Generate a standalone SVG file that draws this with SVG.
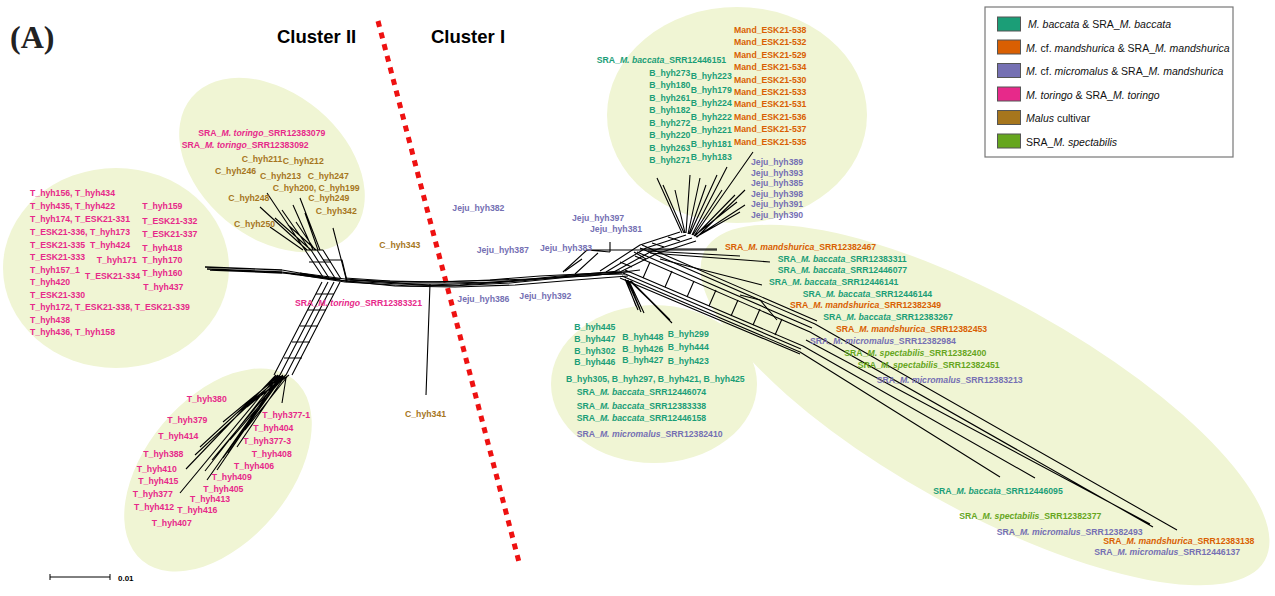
<svg xmlns="http://www.w3.org/2000/svg" width="1275" height="596" viewBox="0 0 1275 596">
<style>
.bg{fill:#f0f5d4}
.l{font-family:"Liberation Sans",Arial,sans-serif;font-size:8.7px;font-weight:bold}
.t{fill:#e7298a}.c{fill:#a6761d}.b{fill:#1b9e77}.m{fill:#d95f02}.j{fill:#7570b3}.s{fill:#66a61e}
.i{font-style:italic}
.net{stroke:#000;stroke-width:1.1;fill:none;stroke-linejoin:round}
.leg{font-family:"Liberation Sans",Arial,sans-serif;font-size:10.5px;fill:#111}
.sw{stroke:#555;stroke-width:1}
</style>
<rect width="1275" height="596" fill="#fff"/>
<g id="areas">
<ellipse class="bg" cx="116" cy="268" rx="113" ry="100"/>
<ellipse class="bg" cx="272" cy="165" rx="105" ry="72" transform="rotate(40 272 165)"/>
<ellipse class="bg" cx="218" cy="470" rx="118" ry="72" transform="rotate(-50 218 470)"/>
<ellipse class="bg" cx="737" cy="115" rx="130" ry="108"/>
<ellipse class="bg" cx="985" cy="405" rx="320" ry="105" transform="rotate(29 985 405)"/>
<ellipse class="bg" cx="654" cy="384" rx="103" ry="79"/>
</g>
<g id="divider">
<line x1="378" y1="21" x2="520" y2="566" stroke="#ee1111" stroke-width="5" stroke-dasharray="6 6"/>
</g>
<g id="connectors" class="net">
<!-- left stub and backbone -->
<path d="M205,267 L282,270 M207,269 L282,272 M210,270 L282,273" stroke-width="1.4"/>
<path d="M282,270 L323,277 M282,272 L330,278 M282,273 L340,279 M290,274 L347,281"/>
<path d="M300,273 L345,279 L400,283 L445,283 L500,282 L560,276 L620,271"/>
<path d="M300,274 L345,281 L400,284 L450,286 L510,283 L570,277 L622,273"/>
<path d="M300,275 L345,282 L410,286 L460,285 L520,281 L580,275 L625,274"/>
<path d="M345,278 L390,281 L440,282 L490,280 L540,276 L600,273 L630,272"/>
<path d="M345,280 L420,282 L470,281 L530,279 L590,276 L640,270"/>
<path d="M345,281 L395,286 L455,287 L515,285 L575,280 L628,276"/>
<path d="M350,280 L430,285 L480,283 L550,278 L615,272"/>
<!-- C branch -->
<path d="M323,277 L305,250 M329,278 L311,250 M335,278 L317,250 M341,279 L323,250"/>
<path d="M305,250 L323,250 M309,262 L331,262 M323,260 L342,260 L347,281"/>
<path d="M305,250 L267,193 M307,250 L260,207 M303,250 L270,227 M310,250 L282,210 M313,250 L293,205 M318,250 L305,213 M320,250 L300,198 M316,250 L288,225 M347,282 L333,228 M311,250 L275,218 M315,250 L296,222"/>
<!-- T branch -->
<path d="M322,282 L274,375 M328,282 L280,375 M334,282 L286,375 M340,282 L292,375"/>
<path d="M316,294 L334,294 M308,310 L326,310 M300,326 L318,326 M292,342 L310,342 M284,358 L302,358"/>
<path d="M276,375 L186,469 M277,376 L180,493 M278,375 L200,447 M279,376 L205,471 M280,376 L207,480 M281,376 L217,470 M282,376 L223,458 M283,376 L228,453 M285,376 L237,447 M280,375 L223,422 M283,375 L237,413 M286,375 L247,407 M289,375 L255,400 M286,378 L282,403 M281,377 L212,460 M279,377 L195,455 M284,377 L230,440 M287,377 L245,430"/>
<!-- short branches centre -->
<path d="M430,284 L426,395 M565,271 L582,259 M610,242 L610,252"/>
<!-- grid toward top-right -->
<path d="M563,272 L587,250 L717,250 M575,274 L598,253 M587,250 L610,252"/>
<path d="M600,271 L640,245 L680,232 M606,272 L646,248 L686,235 M612,273 L652,251 L692,238 M618,273 L656,254 L696,241"/>
<path d="M620,262 L632,267 M634,252 L646,259 M652,243 L664,247 M668,237 L680,241"/>
<path d="M682,233 L657,178 M684,233 L663,185 M686,233 L690,175 M688,234 L700,178 M690,234 L717,175 M692,235 L727,167 M694,236 L753,152 M694,236 L737,202 M696,237 L740,212 M695,236 L735,195 M697,237 L745,190 M685,233 L675,190 M689,234 L706,185 M693,235 L722,190 M696,237 L745,205"/>
<!-- band toward lower right -->
<path d="M620,278 L800,354 M622,276 L800,352 M623,273 L801,349 M625,270 L803,346"/>
<path d="M635,256 L810,332 M637,252 L812,328 M640,248 L815,324 M642,245 L817,321"/>
<path d="M643,278 L650,262 M665,287 L672,271 M687,297 L694,281 M709,306 L716,290 M731,316 L738,300 M753,325 L760,309 M775,335 L782,319"/>
<path d="M640,249 L717,249 M650,253 L770,262 M660,259 L762,285 M740,295 L760,300 L777,320 M648,251 L740,256"/>
<path d="M800,352 L1000,477 M803,346 L1035,478 M810,332 L1153,527 M815,324 L1177,530 M806,340 L1150,524"/>
<!-- lower green fan -->
<path d="M625,279 L638,310 M627,280 L641,312 M629,281 L644,313 M626,280 L636,306 M630,281 L668,318 M632,282 L672,323 M631,281 L670,320 M628,280 L640,309"/>
</g>
<g id="title">
<text x="10" y="48" font-family="Liberation Serif,serif" font-weight="bold" font-size="32" fill="#222">(A)</text>
<text x="277" y="43" font-family="Liberation Sans,Arial,sans-serif" font-weight="bold" font-size="18.5" fill="#000">Cluster II</text>
<text x="431" y="43" font-family="Liberation Sans,Arial,sans-serif" font-weight="bold" font-size="18.5" fill="#000">Cluster I</text>
</g>
<g id="toringo-left" class="l t">
<text x="30" y="196">T_hyh156, T_hyh434</text>
<text x="30" y="208.5">T_hyh435, T_hyh422</text>
<text x="30" y="221.5">T_hyh174, T_ESK21-331</text>
<text x="30" y="234.5">T_ESK21-336, T_hyh173</text>
<text x="30" y="247.5">T_ESK21-335</text>
<text x="30" y="260">T_ESK21-333</text>
<text x="30" y="272.5">T_hyh157_1</text>
<text x="30" y="285">T_hyh420</text>
<text x="30" y="297.5">T_ESK21-330</text>
<text x="30" y="310">T_hyh172, T_ESK21-338, T_ESK21-339</text>
<text x="30" y="322.5">T_hyh438</text>
<text x="30" y="335">T_hyh436, T_hyh158</text>
<text x="90" y="248">T_hyh424</text>
<text x="96.7" y="262.5">T_hyh171</text>
<text x="85" y="279">T_ESK21-334</text>
<text x="142.3" y="209">T_hyh159</text>
<text x="142.3" y="223.5">T_ESK21-332</text>
<text x="142.3" y="237">T_ESK21-337</text>
<text x="142.3" y="250.5">T_hyh418</text>
<text x="142.3" y="263">T_hyh170</text>
<text x="142.3" y="275.5">T_hyh160</text>
<text x="143.3" y="289.5">T_hyh437</text>
</g>
<g id="cultivar" class="l c">
<text class="l t" x="198.3" y="135.5">SRA_<tspan class="i">M. toringo</tspan>_SRR12383079</text>
<text class="l t" x="181.7" y="147.5">SRA_<tspan class="i">M. toringo</tspan>_SRR12383092</text>
<text x="241.7" y="161.5">C_hyh211</text>
<text x="282.7" y="164">C_hyh212</text>
<text x="215" y="174">C_hyh246</text>
<text x="260" y="179">C_hyh213</text>
<text x="307.7" y="179">C_hyh247</text>
<text x="272.7" y="190.5">C_hyh200, C_hyh199</text>
<text x="228.3" y="201">C_hyh248</text>
<text x="308.3" y="201">C_hyh249</text>
<text x="315.7" y="214">C_hyh342</text>
<text x="234" y="227">C_hyh250</text>
<text x="379.3" y="248">C_hyh343</text>
<text x="405" y="417">C_hyh341</text>
</g>
<g id="centre" class="l j">
<text class="l t" x="295" y="305.5">SRA_<tspan class="i">M. toringo</tspan>_SRR12383321</text>
<text x="452.3" y="211">Jeju_hyh382</text>
<text x="476.7" y="252.5">Jeju_hyh387</text>
<text x="540" y="251">Jeju_hyh383</text>
<text x="572" y="221">Jeju_hyh397</text>
<text x="590" y="231.5">Jeju_hyh381</text>
<text x="457.3" y="301.5">Jeju_hyh386</text>
<text x="519.3" y="299">Jeju_hyh392</text>
</g>
<g id="baccata-top" class="l b">
<text x="596.7" y="63">SRA_<tspan class="i">M. baccata</tspan>_SRR12446151</text>
<text x="649.3" y="76">B_hyh273</text>
<text x="649.3" y="88">B_hyh180</text>
<text x="649.3" y="101">B_hyh261</text>
<text x="649.3" y="113">B_hyh182</text>
<text x="649.3" y="125.5">B_hyh272</text>
<text x="649.3" y="138">B_hyh220</text>
<text x="649.3" y="150.5">B_hyh263</text>
<text x="649.3" y="163">B_hyh271</text>
<text x="690.7" y="79">B_hyh223</text>
<text x="690.7" y="92.5">B_hyh179</text>
<text x="690.7" y="106">B_hyh224</text>
<text x="690.7" y="120">B_hyh222</text>
<text x="690.7" y="132.5">B_hyh221</text>
<text x="690.7" y="146.5">B_hyh181</text>
<text x="690.7" y="160">B_hyh183</text>
</g>
<g id="mand-top" class="l m">
<text x="734" y="33">Mand_ESK21-538</text>
<text x="734" y="45.3">Mand_ESK21-532</text>
<text x="734" y="57.7">Mand_ESK21-529</text>
<text x="734" y="70.3">Mand_ESK21-534</text>
<text x="734" y="83">Mand_ESK21-530</text>
<text x="734" y="95">Mand_ESK21-533</text>
<text x="734" y="107.3">Mand_ESK21-531</text>
<text x="734" y="119.7">Mand_ESK21-536</text>
<text x="734" y="132.3">Mand_ESK21-537</text>
<text x="734" y="144.7">Mand_ESK21-535</text>
</g>
<g id="jeju-top" class="l j">
<text x="751" y="165">Jeju_hyh389</text>
<text x="751" y="175.5">Jeju_hyh393</text>
<text x="751" y="186">Jeju_hyh385</text>
<text x="751" y="196.5">Jeju_hyh398</text>
<text x="751" y="207">Jeju_hyh391</text>
<text x="751" y="217.5">Jeju_hyh390</text>
</g>
<g id="sra-right" class="l">
<text class="l m" x="725" y="250">SRA_<tspan class="i">M. mandshurica</tspan>_SRR12382467</text>
<text class="l b" x="777.7" y="261.5">SRA_<tspan class="i">M. baccata</tspan>_SRR12383311</text>
<text class="l b" x="777.7" y="272.5">SRA_<tspan class="i">M. baccata</tspan>_SRR12446077</text>
<text class="l b" x="769" y="285">SRA_<tspan class="i">M. baccata</tspan>_SRR12446141</text>
<text class="l b" x="802.7" y="296.5">SRA_<tspan class="i">M. baccata</tspan>_SRR12446144</text>
<text class="l m" x="790" y="308">SRA_<tspan class="i">M. mandshurica</tspan>_SRR12382349</text>
<text class="l b" x="823.3" y="320">SRA_<tspan class="i">M. baccata</tspan>_SRR12383267</text>
<text class="l m" x="836" y="331.5">SRA_<tspan class="i">M. mandshurica</tspan>_SRR12382453</text>
<text class="l j" x="810" y="344">SRA_<tspan class="i">M. micromalus</tspan>_SRR12382984</text>
<text class="l s" x="844.3" y="355.5">SRA_<tspan class="i">M. spectabilis</tspan>_SRR12382400</text>
<text class="l s" x="857.7" y="367.5">SRA_<tspan class="i">M. spectabilis</tspan>_SRR12382451</text>
<text class="l j" x="876.7" y="382.5">SRA_<tspan class="i">M. micromalus</tspan>_SRR12383213</text>
<text class="l b" x="933.3" y="494">SRA_<tspan class="i">M. baccata</tspan>_SRR12446095</text>
<text class="l s" x="959.3" y="519">SRA_<tspan class="i">M. spectabilis</tspan>_SRR12382377</text>
<text class="l j" x="996.7" y="535">SRA_<tspan class="i">M. micromalus</tspan>_SRR12382493</text>
<text class="l m" x="1103.3" y="544">SRA_<tspan class="i">M. mandshurica</tspan>_SRR12383138</text>
<text class="l j" x="1094.3" y="555">SRA_<tspan class="i">M. micromalus</tspan>_SRR12446137</text>
</g>
<g id="baccata-low" class="l b">
<text x="574.3" y="330">B_hyh445</text>
<text x="574.3" y="342">B_hyh447</text>
<text x="574.3" y="354">B_hyh302</text>
<text x="574.3" y="365">B_hyh446</text>
<text x="622.3" y="340">B_hyh448</text>
<text x="622.3" y="352">B_hyh426</text>
<text x="622.3" y="362.5">B_hyh427</text>
<text x="667.7" y="336.5">B_hyh299</text>
<text x="667.7" y="350">B_hyh444</text>
<text x="667.7" y="364">B_hyh423</text>
<text x="566" y="381.5">B_hyh305, B_hyh297, B_hyh421, B_hyh425</text>
<text x="576.7" y="395">SRA_<tspan class="i">M. baccata</tspan>_SRR12446074</text>
<text x="576.7" y="409">SRA_<tspan class="i">M. baccata</tspan>_SRR12383338</text>
<text x="576.7" y="421">SRA_<tspan class="i">M. baccata</tspan>_SRR12446158</text>
<text class="l j" x="576.7" y="437">SRA_<tspan class="i">M. micromalus</tspan>_SRR12382410</text>
</g>
<g id="toringo-low" class="l t">
<text x="186.7" y="401.5">T_hyh380</text>
<text x="167.3" y="423">T_hyh379</text>
<text x="158.3" y="439">T_hyh414</text>
<text x="143.3" y="457">T_hyh388</text>
<text x="136.7" y="471.5">T_hyh410</text>
<text x="138.3" y="484">T_hyh415</text>
<text x="132.7" y="496.5">T_hyh377</text>
<text x="134" y="510">T_hyh412</text>
<text x="151.7" y="526">T_hyh407</text>
<text x="177.3" y="512.5">T_hyh416</text>
<text x="190" y="502">T_hyh413</text>
<text x="203.3" y="491.5">T_hyh405</text>
<text x="211.7" y="480">T_hyh409</text>
<text x="234" y="469">T_hyh406</text>
<text x="251.7" y="457">T_hyh408</text>
<text x="243.3" y="444">T_hyh377-3</text>
<text x="253.3" y="430.5">T_hyh404</text>
<text x="262.3" y="417.5">T_hyh377-1</text>
</g>
<g id="legend">
<rect x="985" y="7" width="248" height="150" fill="#fff" stroke="#777" stroke-width="1.2"/>
<rect class="sw" x="997.5" y="17" width="23" height="14" fill="#1b9e77"/>
<rect class="sw" x="997.5" y="40" width="23" height="14" fill="#d95f02"/>
<rect class="sw" x="997.5" y="63.5" width="23" height="14" fill="#7570b3"/>
<rect class="sw" x="997.5" y="87" width="23" height="14" fill="#e7298a"/>
<rect class="sw" x="997.5" y="110.5" width="23" height="14" fill="#a6761d"/>
<rect class="sw" x="997.5" y="134" width="23" height="14" fill="#66a61e"/>
<text class="leg" x="1028" y="28"><tspan class="i">M. baccata</tspan> &amp; SRA_<tspan class="i">M. baccata</tspan></text>
<text class="leg" x="1026" y="51.5"><tspan class="i">M.</tspan> cf. <tspan class="i">mandshurica</tspan> &amp; SRA_<tspan class="i">M. mandshurica</tspan></text>
<text class="leg" x="1026" y="75"><tspan class="i">M.</tspan> cf. <tspan class="i">micromalus</tspan> &amp; SRA_<tspan class="i">M. mandshurica</tspan></text>
<text class="leg" x="1026" y="98.5"><tspan class="i">M. toringo</tspan> &amp; SRA_<tspan class="i">M. toringo</tspan></text>
<text class="leg" x="1026" y="122"><tspan class="i">Malus</tspan> cultivar</text>
<text class="leg" x="1026" y="145.5">SRA_<tspan class="i">M. spectabilis</tspan></text>
</g>
<g id="scale">
<path d="M50,574 L50,580 M50,577 L110,577 M110,574 L110,580" stroke="#000" stroke-width="1" fill="none"/>
<text x="118" y="581" font-family="Liberation Sans,Arial,sans-serif" font-weight="bold" font-size="8" fill="#000">0.01</text>
</g>
</svg>
